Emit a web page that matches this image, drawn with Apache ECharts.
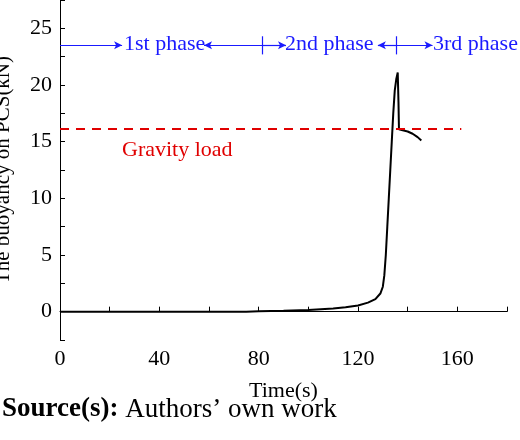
<!DOCTYPE html><html><head><meta charset="utf-8"><script src="https://cdn.jsdelivr.net/npm/echarts@6/dist/echarts.min.js"></script></head><body style="margin:0"><div id="c" style="width:520px;height:440px"></div><script>
const timeS=[0,20,40,60,75,80,90,100,110,115,120,124,127,129,130,130.6,131.2,131.8,132.4,133,133.6,134.2,134.8,135.4,136,136.3,136.5,137,138,140,142,144,145.5];
const buoyancy=[0,0,0,0,0,0.03,0.08,0.15,0.28,0.38,0.55,0.8,1.1,1.6,2.2,3.2,5,7.5,10,12.5,15,17.5,19.5,20.5,21.1,18.5,16.1,16.1,16.0,15.9,15.7,15.4,15.1];
const gravityLoad=16.1;
const xTicks=[0,40,80,120,160];
const yTicks=[0,5,10,15,20,25];
const F='Liberation Serif';
const c=echarts.init(document.getElementById('c'));
const blue='#1a1aff';
const seg=(a,b,y,startArrow,endArrow)=>[{coord:[a,y],symbol:startArrow?'arrow':'none'},{coord:[b,y],symbol:endArrow?'arrow':'none'}];
c.setOption({animation:false,
grid:{left:60,top:0,right:13,bottom:100,outerBoundsMode:'none',containLabel:false},
xAxis:{type:'value',min:0,max:180,interval:20,
 axisLine:{lineStyle:{color:'#000'}},
 axisTick:{inside:true,length:5,lineStyle:{color:'#000'}},
 axisLabel:{customValues:xTicks,color:'#000',fontFamily:F,fontSize:22,margin:8},
 splitLine:{show:false},
 name:'Time(s)',nameLocation:'middle',nameGap:40,nameTextStyle:{color:'#000',fontFamily:F,fontSize:22}},
yAxis:{type:'value',min:-2.5,max:27.5,
 axisLine:{show:true,lineStyle:{color:'#000'}},
 axisTick:{show:true,inside:true,length:5,customValues:[-2.5,0,2.5,5,7.5,10,12.5,15,17.5,20,22.5,25,27.5],lineStyle:{color:'#000'}},
 axisLabel:{customValues:yTicks,color:'#000',fontFamily:F,fontSize:22,margin:8},
 splitLine:{show:false},
 name:'The buoyancy on PCS(kN)',nameLocation:'middle',nameGap:46,nameTextStyle:{color:'#000',fontFamily:F,fontSize:21}},
series:[
{type:'line',data:timeS.map((t,i)=>[t,buoyancy[i]]),showSymbol:false,lineStyle:{color:'#000',width:2},
 markLine:{silent:true,symbol:'none',label:{show:false},lineStyle:{color:'#e00000',type:[9,7],width:2},
  data:[[{coord:[0,gravityLoad]},{coord:[161.6,gravityLoad]}]]}},
{type:'line',data:[],
 markLine:{silent:true,symbolSize:[6,8],label:{show:false},lineStyle:{color:blue,type:'solid',width:1.2},
  data:[seg(0,25,23.5,false,true),seg(58,81.6,23.5,true,false),seg(81.6,91,23.5,false,true),seg(128,135.4,23.5,true,false),seg(135.4,150,23.5,false,true),
   [{coord:[81.6,22.7],symbol:'none'},{coord:[81.6,24.3],symbol:'none'}],[{coord:[135.4,22.7],symbol:'none'},{coord:[135.4,24.3],symbol:'none'}]]}}
],
graphic:[
{type:'text',left:124,top:33,style:{text:'1st phase',fill:blue,font:'22px '+F}},
{type:'text',left:285,top:33,style:{text:'2nd phase',fill:blue,font:'22px '+F}},
{type:'text',left:433,top:33,style:{text:'3rd phase',fill:blue,font:'22px '+F}},
{type:'text',left:122,top:139,style:{text:'Gravity load',fill:'#e00000',font:'22px '+F}},
{type:'text',left:2,top:396,style:{rich:{b:{fontFamily:F,fontSize:27,fontWeight:'bold',fill:'#000'},n:{fontFamily:F,fontSize:27,fill:'#000'}},text:'{b|Source(s):}{n| Authors’ own work}'}}
]});
</script></body></html>
